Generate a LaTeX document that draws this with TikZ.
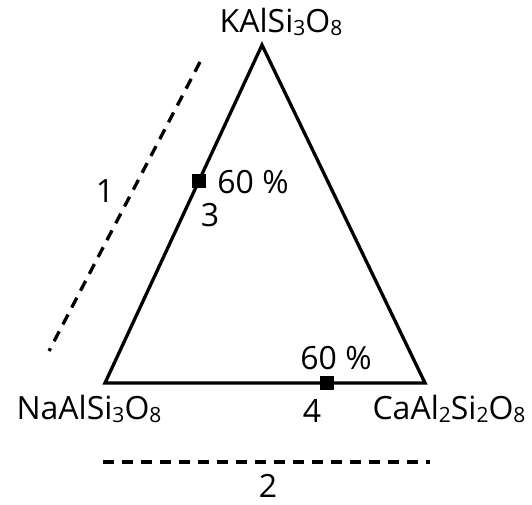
\documentclass[tikz,border=0pt]{standalone}
\usepackage{fontspec}
\setmainfont{Open Sans}
\newcommand\chemsub[1]{\raisebox{-0.12em}{\fontsize{21}{24}\selectfont #1}}
\begin{document}
\begin{tikzpicture}[x=1pt,y=-1pt,
  lbl/.style={font=\fontsize{32}{36}\selectfont, inner sep=0pt},
  edge/.style={line width=3.3pt, line join=miter},
  dline/.style={line width=3.3pt, dash pattern=on 11pt off 8pt},
  marker/.style={fill=black, minimum size=14pt, inner sep=0pt, rectangle}]
\useasboundingbox (0,0) rectangle (532,504);
\coordinate (K) at (262,45);
\coordinate (Na) at (105,383);
\coordinate (Ca) at (425,383);
\draw[edge] (K) -- (Na) -- (Ca) -- cycle;
\node[marker] (p3) at (199,181) {};
\node[marker] (p4) at (327,383) {};
\node[lbl] (tK) at (281,22) {KAlSi\chemsub{3}O\chemsub{8}};
\node[lbl] (tNa) at (89,409) {NaAlSi\chemsub{3}O\chemsub{8}};
\node[lbl] (tCa) at (449,409) {CaAl\chemsub{2}Si\chemsub{2}O\chemsub{8}};
\node[lbl] (t60a) at (253,182) {60 \%};
\node[lbl] (t3) at (210,215) {3};
\node[lbl] (t60b) at (336,358) {60 \%};
\node[lbl] (t4) at (312,411) {4};
\coordinate (d1a) at (200,62);
\coordinate (d1b) at (49,351);
\draw[dline] (d1a) -- (d1b);
\node[lbl] (t1) at (105,191) {1};
\coordinate (d2a) at (103,462);
\coordinate (d2b) at (430,462);
\draw[dline] (d2a) -- (d2b);
\node[lbl] (t2) at (268,486) {2};
\end{tikzpicture}
\end{document}
